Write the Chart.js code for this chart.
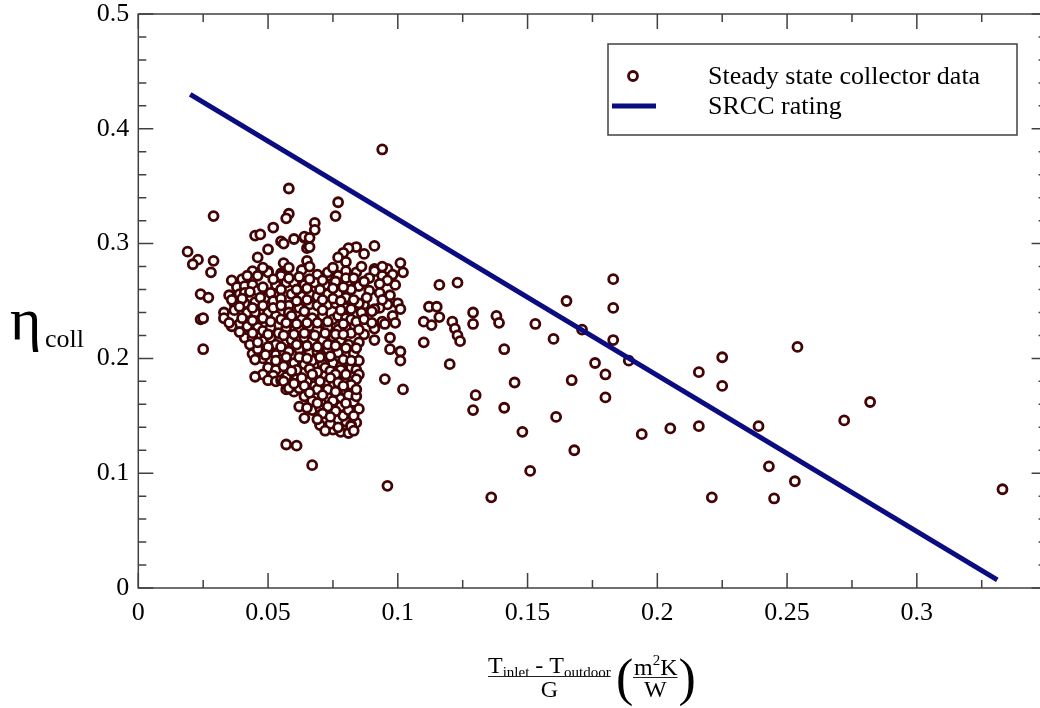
<!DOCTYPE html>
<html><head><meta charset="utf-8">
<script src="https://cdn.jsdelivr.net/npm/chart.js@4.4.0/dist/chart.umd.min.js"></script>
<style>
html,body{margin:0;padding:0;overflow:hidden;background:#fff;width:1040px;height:708px}
#wrap{position:absolute;left:0;top:0;width:1060px;height:708px}
</style>
</head><body><div id="wrap"><canvas id="c" width="1060" height="708"></canvas></div>
<script>
// ---- data (x = (T_inlet - T_outdoor)/G, y = eta_coll) ----
const upperPts = [
 [0.019,0.293],[0.023,0.286],[0.021,0.282],[0.029,0.324],[0.029,0.285],[0.028,0.275],[0.024,0.256],[0.027,0.253],[0.024,0.234],[0.025,0.235],[0.025,0.208],
 [0.058,0.348],[0.058,0.326],[0.057,0.322],[0.052,0.314],[0.045,0.307],[0.047,0.308],[0.050,0.295],[0.046,0.288],[0.055,0.302],[0.056,0.300],[0.056,0.283],[0.060,0.304],[0.064,0.305],[0.065,0.296],[0.065,0.285],
 [0.077,0.336],[0.076,0.324],[0.068,0.318],[0.068,0.312],[0.064,0.306],[0.066,0.305],[0.066,0.297],
 [0.091,0.298],[0.087,0.291],[0.084,0.297],[0.081,0.296],[0.079,0.292],[0.077,0.288],[0.080,0.284],
 [0.091,0.278],[0.096,0.278],[0.101,0.283],[0.094,0.382]
];
const corePts = [
 [0.044,0.276],[0.050,0.276],[0.055,0.274],[0.046,0.272],[0.050,0.275],[0.055,0.272],[0.069,0.273],[0.073,0.272],[0.077,0.272],[0.080,0.276],[0.084,0.275],[0.091,0.276],[0.094,0.272],[0.098,0.273],[0.102,0.275],[0.073,0.275],[0.080,0.270],[0.089,0.270],
 [0.040,0.269],[0.036,0.268],[0.038,0.262],[0.035,0.255],[0.041,0.263],[0.039,0.256],[0.041,0.257],[0.037,0.248],[0.041,0.248],
 [0.044,0.264],[0.046,0.259],[0.049,0.253],[0.051,0.257],[0.053,0.264],[0.057,0.266],[0.060,0.266],[0.064,0.264],[0.068,0.266],[0.072,0.264],[0.084,0.266],[0.085,0.263],[0.087,0.267],[0.099,0.264],
 [0.059,0.256],[0.063,0.254],[0.066,0.256],[0.069,0.254],[0.073,0.256],[0.077,0.257],[0.080,0.253],[0.082,0.260],
 [0.058,0.246],[0.062,0.244],[0.066,0.247],[0.069,0.246],[0.073,0.247],[0.076,0.248],[0.080,0.244],[0.096,0.247],[0.100,0.248],[0.101,0.243],[0.093,0.244],[0.091,0.243],[0.087,0.247],[0.085,0.248],[0.082,0.243],[0.086,0.240],[0.090,0.241],[0.033,0.240],[0.037,0.242],[0.042,0.240],[0.045,0.240],[0.050,0.240],[0.058,0.240],
 [0.033,0.235],[0.048,0.235],[0.053,0.237],[0.055,0.234],[0.059,0.237],[0.063,0.234],[0.067,0.235],[0.071,0.237],[0.075,0.234],[0.077,0.237],[0.080,0.235],[0.082,0.234],[0.084,0.232],[0.098,0.237],[0.099,0.231],[0.094,0.232],[0.095,0.230],
 [0.039,0.230],[0.036,0.228],[0.042,0.228],[0.046,0.227],[0.048,0.224],[0.051,0.227],[0.054,0.222],[0.057,0.227],[0.062,0.225],[0.066,0.228],[0.069,0.225],[0.073,0.227],[0.077,0.225],[0.080,0.227],[0.091,0.226],[0.087,0.221],[0.082,0.222],
 [0.041,0.218],[0.044,0.218],[0.048,0.215],[0.051,0.218],[0.053,0.212],[0.057,0.215],[0.059,0.216],[0.064,0.218],[0.067,0.215],[0.071,0.216],[0.075,0.219],[0.078,0.216],[0.091,0.216],[0.081,0.212],[0.085,0.214],[0.097,0.218],
 [0.044,0.204],[0.046,0.208],[0.050,0.206],[0.053,0.203],[0.056,0.206],[0.058,0.206],[0.062,0.208],[0.066,0.205],[0.069,0.206],[0.073,0.208],[0.077,0.205],[0.080,0.209],[0.083,0.204],[0.097,0.208],[0.101,0.206],[0.101,0.198],
 [0.048,0.200],[0.051,0.198],[0.055,0.199],[0.058,0.195],[0.060,0.196],[0.064,0.195],[0.067,0.198],[0.071,0.195],[0.075,0.196],[0.078,0.193],[0.082,0.192],[0.085,0.198],[0.072,0.192],[0.078,0.190],[0.084,0.190]
];
const fillPts = [
 [0.048,0.279],[0.058,0.279],[0.063,0.277],[0.066,0.280],[0.075,0.279],[0.086,0.280],[0.094,0.280],
 [0.042,0.272],[0.052,0.269],[0.058,0.270],[0.062,0.271],[0.066,0.269],[0.071,0.268],[0.076,0.267],[0.083,0.270],[0.096,0.268],[0.093,0.265],
 [0.043,0.258],[0.048,0.262],[0.055,0.260],[0.061,0.260],[0.065,0.261],[0.070,0.260],[0.075,0.261],[0.079,0.262],[0.089,0.259],[0.093,0.257],[0.097,0.255],
 [0.036,0.251],[0.040,0.252],[0.045,0.249],[0.047,0.253],[0.052,0.250],[0.055,0.252],[0.061,0.250],[0.065,0.251],[0.071,0.251],[0.075,0.252],[0.078,0.250],[0.083,0.251],[0.088,0.253],[0.094,0.251],
 [0.039,0.245],[0.044,0.244],[0.048,0.246],[0.052,0.244],[0.055,0.246],[0.064,0.241],[0.071,0.242],[0.078,0.242],
 [0.035,0.231],[0.040,0.235],[0.044,0.233],[0.051,0.232],[0.057,0.231],[0.061,0.230],[0.065,0.231],[0.069,0.231],[0.073,0.232],[0.079,0.230],[0.087,0.234],[0.090,0.231],
 [0.039,0.223],[0.044,0.222],[0.050,0.221],[0.056,0.220],[0.060,0.221],[0.064,0.222],[0.068,0.220],[0.072,0.222],[0.076,0.221],[0.079,0.221],[0.085,0.225],
 [0.043,0.212],[0.046,0.214],[0.050,0.210],[0.055,0.210],[0.061,0.212],[0.065,0.211],[0.069,0.210],[0.073,0.212],[0.076,0.211],[0.084,0.209],
 [0.045,0.199],[0.049,0.203],[0.053,0.198],[0.057,0.201],[0.062,0.201],[0.065,0.200],[0.070,0.201],[0.074,0.202],[0.079,0.199],[0.082,0.198],
 [0.050,0.192],[0.053,0.190],[0.056,0.193],[0.061,0.190],[0.066,0.191],[0.069,0.188],[0.074,0.189],[0.076,0.186],
 [0.048,0.186],[0.052,0.185],[0.057,0.184],[0.061,0.182],[0.065,0.180],[0.072,0.179],[0.079,0.181],[0.082,0.184],[0.085,0.186],
 [0.060,0.171],[0.062,0.174],[0.068,0.176],[0.073,0.166],[0.078,0.165],[0.083,0.162],[0.080,0.171],
 [0.067,0.155],[0.070,0.157],[0.076,0.160],[0.078,0.152],[0.085,0.156],[0.084,0.144],[0.080,0.145],[0.075,0.138]
];
const lowerPts = [
 [0.045,0.184],[0.050,0.181],[0.053,0.180],[0.055,0.181],[0.056,0.180],[0.057,0.173],[0.058,0.174],[0.059,0.189],[0.063,0.183],[0.067,0.186],[0.069,0.173],[0.073,0.173],[0.075,0.163],[0.078,0.158],[0.064,0.167],[0.067,0.163],[0.069,0.161],[0.081,0.168],[0.084,0.167],[0.084,0.182],[0.082,0.177],[0.084,0.173],[0.062,0.158],[0.065,0.157],[0.077,0.147],[0.079,0.150],[0.076,0.154],[0.082,0.142],[0.070,0.142],[0.074,0.143],[0.078,0.136],[0.081,0.135],[0.082,0.141],[0.064,0.148],
 [0.057,0.125],[0.061,0.124],[0.067,0.107],[0.095,0.182],[0.102,0.173],
 [0.060,0.178],[0.064,0.176],[0.070,0.180],[0.074,0.183],[0.077,0.179],[0.080,0.186],[0.071,0.168],[0.076,0.171],[0.079,0.176],[0.066,0.170],[0.073,0.158],[0.071,0.152],[0.074,0.149],[0.081,0.155],[0.080,0.161],[0.069,0.147],[0.083,0.150],[0.077,0.140],[0.072,0.137],[0.083,0.137]
];
const farPts = [
 [0.096,0.089],[0.112,0.245],[0.115,0.245],[0.110,0.232],[0.113,0.229],[0.116,0.236],[0.110,0.214],[0.116,0.264],[0.123,0.266],[0.121,0.232],[0.122,0.226],[0.123,0.220],[0.124,0.215],[0.120,0.195],
 [0.129,0.240],[0.129,0.230],[0.138,0.237],[0.139,0.231],[0.141,0.208],[0.130,0.168],[0.129,0.155],[0.141,0.157],[0.145,0.179],[0.148,0.136],[0.136,0.079],[0.151,0.102],[0.153,0.230],[0.160,0.217],[0.161,0.149],
 [0.165,0.250],[0.167,0.181],[0.168,0.120],[0.171,0.225],[0.176,0.196],[0.180,0.186],[0.180,0.166],[0.183,0.269],[0.183,0.244],[0.183,0.216],[0.189,0.198],[0.194,0.134],[0.205,0.139],
 [0.216,0.141],[0.216,0.188],[0.221,0.079],[0.225,0.201],[0.225,0.176],[0.239,0.141],[0.243,0.106],[0.245,0.078],[0.253,0.093],[0.254,0.210],[0.272,0.146],[0.282,0.162],[0.333,0.086]
];
const srccX = [0.020, 0.331];
const srccY = [0.430, 0.007];
const xTickValues = [0, 0.05, 0.1, 0.15, 0.2, 0.25, 0.3];
const xTickLabels = ['0', '0.05', '0.1', '0.15', '0.2', '0.25', '0.3'];
const yTickValues = [0, 0.1, 0.2, 0.3, 0.4, 0.5];
const yTickLabels = ['0', '0.1', '0.2', '0.3', '0.4', '0.5'];
const seriesNames = ['Steady state collector data', 'SRCC rating'];

// ---- styles ----
const SERIF = '"Liberation Serif", "Times New Roman", serif';
const AXIS_COLOR = '#404040';
const DOT_COLOR = '#420404';
const LINE_COLOR = '#0b0b82';

const collectorData = [...upperPts, ...corePts, ...fillPts, ...lowerPts, ...farPts].map(p => ({x: p[0], y: p[1]}));
const srccData = srccX.map((x, i) => ({x, y: srccY[i]}));

const framePlugin = {
  id: 'frame',
  beforeDatasetsDraw(chart) {
    const {ctx, chartArea: a, scales: {x, y}} = chart;
    ctx.save();
    ctx.strokeStyle = AXIS_COLOR;
    ctx.lineWidth = 1.5;
    ctx.strokeRect(a.left, a.top, a.right - a.left, a.bottom - a.top);
    ctx.beginPath();
    for (let i = 0; i <= 14; i++) {
      const px = x.getPixelForValue(i * 0.025);
      const L = (i % 2 === 0) ? 15 : 8;
      ctx.moveTo(px, a.bottom); ctx.lineTo(px, a.bottom - L);
      ctx.moveTo(px, a.top); ctx.lineTo(px, a.top + L);
    }
    for (let j = 0; j <= 25; j++) {
      const py = y.getPixelForValue(j * 0.02);
      const L = (j % 5 === 0) ? 15 : 8;
      ctx.moveTo(a.left, py); ctx.lineTo(a.left + L, py);
      ctx.moveTo(a.right, py); ctx.lineTo(a.right - L, py);
    }
    ctx.stroke();
    ctx.restore();
  },
  afterDraw(chart) {
    const ctx = chart.ctx;
    ctx.save();
    ctx.fillStyle = '#000';
    ctx.textBaseline = 'alphabetic';
    // y-axis title: eta_coll
    ctx.textAlign = 'left';
    ctx.font = '60px ' + SERIF;
    ctx.fillText('\u03B7', 10, 339);
    ctx.font = '26px ' + SERIF;
    ctx.fillText('coll', 45, 347);

    // x-axis title
    let xp = 488;
    const put = (t, size, base) => { ctx.font = size + 'px ' + SERIF; ctx.fillText(t, xp, base); xp += ctx.measureText(t).width; };
    put('T', 24, 673); put('inlet', 15, 677); put(' - ', 24, 673); put('T', 24, 673); put('outdoor', 15, 677);
    const numEnd = xp;
    ctx.strokeStyle = '#222'; ctx.lineWidth = 1;
    ctx.beginPath(); ctx.moveTo(488, 676.5); ctx.lineTo(numEnd, 676.5); ctx.stroke();
    ctx.font = '24px ' + SERIF; ctx.textAlign = 'center';
    ctx.fillText('G', (488 + numEnd) / 2, 697);
    ctx.textAlign = 'left';
    ctx.font = '52px ' + SERIF;
    ctx.fillText('(', 616, 695);
    xp = 634;
    put('m', 24, 675); put('2', 15, 665); put('K', 24, 675);
    const unitEnd = xp;
    ctx.beginPath(); ctx.moveTo(633, 677.5); ctx.lineTo(unitEnd, 677.5); ctx.stroke();
    ctx.font = '24px ' + SERIF; ctx.textAlign = 'center';
    ctx.fillText('W', (633 + unitEnd) / 2, 697);
    ctx.textAlign = 'left';
    ctx.font = '52px ' + SERIF;
    ctx.fillText(')', unitEnd + 1, 695);

    // legend
    ctx.fillStyle = '#fff';
    ctx.fillRect(608, 44, 409, 91);
    ctx.strokeStyle = AXIS_COLOR; ctx.lineWidth = 1.5;
    ctx.strokeRect(608, 44, 409, 91);
    ctx.beginPath(); ctx.arc(633, 76, 4.5, 0, Math.PI * 2);
    ctx.fillStyle = '#fff'; ctx.fill();
    ctx.strokeStyle = DOT_COLOR; ctx.lineWidth = 2.8; ctx.stroke();
    ctx.strokeStyle = LINE_COLOR; ctx.lineWidth = 5;
    ctx.beginPath(); ctx.moveTo(612, 106); ctx.lineTo(656, 106); ctx.stroke();
    ctx.fillStyle = '#000';
    ctx.font = '26px ' + SERIF; ctx.textAlign = 'left';
    ctx.fillText(seriesNames[0], 708, 84);
    ctx.fillText(seriesNames[1], 708, 114);
    ctx.restore();
  }
};

const tickFont = {family: SERIF, size: 26};
new Chart(document.getElementById('c'), {
  type: 'scatter',
  data: {
    datasets: [
      {label: seriesNames[0], data: collectorData, showLine: false, pointRadius: 4.5, pointHoverRadius: 4.5,
       pointBorderWidth: 2.8, pointBorderColor: DOT_COLOR, pointBackgroundColor: '#fff', order: 1},
      {label: seriesNames[1], data: srccData, showLine: true, borderColor: LINE_COLOR, borderWidth: 5,
       pointRadius: 0, fill: false, order: 0}
    ]
  },
  options: {
    responsive: false, animation: false, events: [],
    layout: {padding: {top: 14, right: 13.4, left: 0, bottom: 0}},
    plugins: {legend: {display: false}, tooltip: {enabled: false}},
    scales: {
      x: {
        type: 'linear', min: 0, max: 0.35,
        afterBuildTicks: s => { s.ticks = xTickValues.map(v => ({value: v})); },
        afterFit: s => { s.height = 120; s.paddingLeft = 0; s.paddingRight = 0; },
        ticks: {font: tickFont, color: '#000', padding: 10, maxRotation: 0,
                callback: (v, i) => xTickLabels[i]},
        grid: {display: false, drawTicks: false}, border: {display: false}
      },
      y: {
        type: 'linear', min: 0, max: 0.5,
        afterBuildTicks: s => { s.ticks = yTickValues.map(v => ({value: v})); },
        afterFit: s => { s.width = 138.3; s.paddingTop = 0; s.paddingBottom = 0; },
        ticks: {font: tickFont, color: '#000', padding: 9,
                callback: (v, i) => yTickLabels[i]},
        grid: {display: false, drawTicks: false}, border: {display: false}
      }
    }
  },
  plugins: [framePlugin]
});
</script>
</body></html>
